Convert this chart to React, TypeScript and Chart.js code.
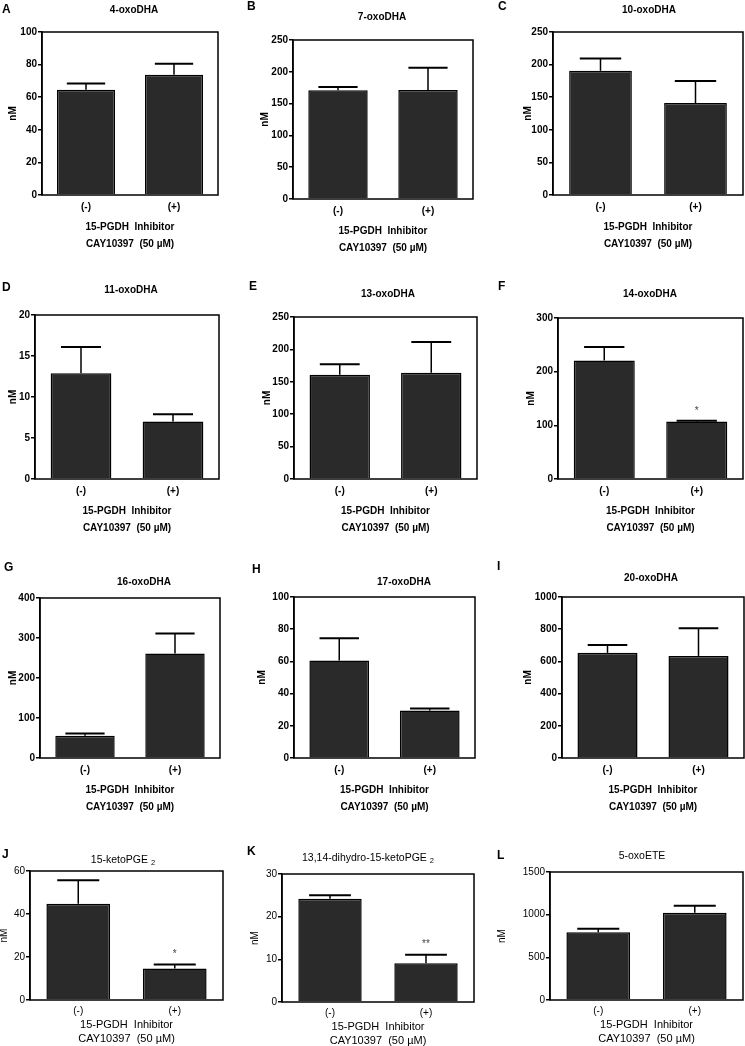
import React, { useEffect, useRef } from 'react';
import { Chart, registerables } from 'chart.js';

Chart.register(...registerables);

const FONT = "'Liberation Sans', Arial, Helvetica, sans-serif";

// ---------- data ----------
const panelLetters = ['A', 'B', 'C', 'D', 'E', 'F', 'G', 'H', 'I', 'J', 'K', 'L'];
const panelTitles = [
  '4-oxoDHA', '7-oxoDHA', '10-oxoDHA',
  '11-oxoDHA', '13-oxoDHA', '14-oxoDHA',
  '16-oxoDHA', '17-oxoDHA', '20-oxoDHA',
  '15-ketoPGE', '13,14-dihydro-15-ketoPGE', '5-oxoETE',
];
const titleSubscripts = ['', '', '', '', '', '', '', '', '', '2', '2', ''];
const categories = ['(-)', '(+)'];
const xAxisLines = ['15-PGDH  Inhibitor', 'CAY10397  (50 \u00B5M)'];
const yAxisLabel = 'nM';

const meanMinus = [64.5, 171, 190.5, 12.9, 161, 221, 55.6, 60.5, 653, 44.8, 24.2, 795];
const meanPlus = [73.8, 171.5, 141, 7.0, 164, 107, 261, 29.5, 634, 14.7, 9.1, 1022];
const semMinus = [3.9, 5, 19, 3.2, 16, 25, 5.4, 13.9, 49, 10.9, 0.8, 39];
const semPlus = [6.7, 35, 34, 0.9, 47.5, 1.5, 50, 1.3, 172, 1.8, 2.0, 83];
const sigMinus = ['', '', '', '', '', '', '', '', '', '', '', ''];
const sigPlus = ['', '', '', '', '', '*', '', '', '', '*', '**', ''];

const yMax = [100, 250, 250, 20, 250, 300, 400, 100, 1000, 60, 30, 1500];
const yStep = [20, 50, 50, 5, 50, 100, 100, 20, 200, 20, 10, 500];

// ---------- layout (pixels on the page) ----------
const COLS: [number, number][] = [[-6, 251], [245, 250], [495, 250]];
const ROWS: [number, number][] = [[0, 278], [278, 280], [558, 284], [842, 210]];

type PanelLayout = {
  col: number; row: number;
  l: number; t: number; r: number; b: number;
  nmD: number; tx: number; ty: number; lx: number; ly: number;
};

const LAYOUT: PanelLayout[] = [
  { col: 0, row: 0, l: 42, t: 32, r: 218, b: 195, nmD: 29, tx: 134, ty: 10, lx: 2, ly: 10 },
  { col: 1, row: 0, l: 293, t: 40, r: 473, b: 199, nmD: 28, tx: 382, ty: 17, lx: 247, ly: 7 },
  { col: 2, row: 0, l: 553, t: 32, r: 743, b: 195, nmD: 25, tx: 649, ty: 10, lx: 498, ly: 7 },
  { col: 0, row: 1, l: 35, t: 315, r: 219, b: 479, nmD: 22, tx: 131, ty: 290, lx: 2, ly: 288 },
  { col: 1, row: 1, l: 294, t: 317, r: 477, b: 479, nmD: 27, tx: 388, ty: 294, lx: 249, ly: 287 },
  { col: 2, row: 1, l: 558, t: 318, r: 743, b: 479, nmD: 27, tx: 650, ty: 294, lx: 498, ly: 287 },
  { col: 0, row: 2, l: 40, t: 598, r: 220, b: 758, nmD: 27, tx: 144, ty: 582, lx: 4, ly: 568 },
  { col: 1, row: 2, l: 294, t: 597, r: 475, b: 758, nmD: 32, tx: 404, ty: 582, lx: 252, ly: 570 },
  { col: 2, row: 2, l: 562, t: 597, r: 744, b: 758, nmD: 34, tx: 651, ty: 578, lx: 497, ly: 567 },
  { col: 0, row: 3, l: 30, t: 871, r: 223, b: 1000, nmD: 26, tx: 123, ty: 860, lx: 2, ly: 855 },
  { col: 1, row: 3, l: 282, t: 874, r: 474, b: 1002, nmD: 27, tx: 368, ty: 858, lx: 247, ly: 852 },
  { col: 2, row: 3, l: 550, t: 872, r: 743, b: 1000, nmD: 48, tx: 642, ty: 856, lx: 497, ly: 856 },
];

function makeDecor(i: number, cx: number, cy: number, small: boolean) {
  return {
    id: 'decor' + i,
    afterDatasetsDraw(chart: any) {
      const ctx: CanvasRenderingContext2D = chart.ctx;
      const { left, top, right, bottom } = chart.chartArea;
      const meta = chart.getDatasetMeta(0);
      const ys = chart.scales.y;
      const means = [meanMinus[i], meanPlus[i]];
      const errs = [semMinus[i], semPlus[i]];
      const sigs = [sigMinus[i], sigPlus[i]];
      ctx.save();
      ctx.strokeStyle = '#000';
      meta.data.forEach((bar: any, k: number) => {
        const x = bar.x;
        const y0 = ys.getPixelForValue(means[k]);
        const y1 = ys.getPixelForValue(means[k] + errs[k]);
        const half = bar.width * 0.33;
        ctx.lineWidth = 1.5;
        ctx.beginPath();
        ctx.moveTo(x, y0);
        ctx.lineTo(x, y1);
        ctx.stroke();
        ctx.lineWidth = 2;
        ctx.beginPath();
        ctx.moveTo(x - half, y1);
        ctx.lineTo(x + half, y1);
        ctx.stroke();
        if (sigs[k]) {
          ctx.fillStyle = '#444';
          ctx.font = `10px ${FONT}`;
          ctx.textAlign = 'center';
          ctx.textBaseline = 'middle';
          ctx.fillText(sigs[k], x, y1 - 10);
        }
      });
      // frame
      ctx.lineWidth = 1.5;
      ctx.strokeStyle = '#000';
      ctx.strokeRect(left, top, right - left, bottom - top);

      const L = LAYOUT[i];
      // panel letter
      ctx.fillStyle = '#000';
      ctx.font = `bold 12px ${FONT}`;
      ctx.textAlign = 'left';
      ctx.textBaseline = 'middle';
      ctx.fillText(panelLetters[i], L.lx - cx, L.ly - cy);

      // title with optional subscript
      const mainFont = small ? `10.5px ${FONT}` : `bold 10px ${FONT}`;
      const subFont = small ? `7.5px ${FONT}` : `bold 7.5px ${FONT}`;
      ctx.font = mainFont;
      const w1 = ctx.measureText(panelTitles[i]).width;
      let w2 = 0;
      const sub = titleSubscripts[i];
      const gap = sub ? 3 : 0;
      if (sub) {
        ctx.font = subFont;
        w2 = ctx.measureText(sub).width;
      }
      const startX = L.tx - cx - (w1 + gap + w2) / 2;
      const ty = L.ty - cy;
      ctx.font = mainFont;
      ctx.fillText(panelTitles[i], startX, ty);
      if (sub) {
        ctx.font = subFont;
        ctx.fillText(sub, startX + w1 + gap, ty + 3);
      }
      ctx.restore();
    },
  };
}

function Panel({ i }: { i: number }) {
  const ref = useRef<HTMLCanvasElement>(null);
  const L = LAYOUT[i];
  const [cx, cw] = COLS[L.col];
  const [cy, ch] = ROWS[L.row];
  useEffect(() => {
    const small = L.row === 3;
    const xh = small ? 46 : 58;
    const yw = L.nmD + 5;
    const weight: any = small ? 'normal' : 'bold';
    const tickFont = { family: FONT, size: 10, weight, lineHeight: 1.2 };
    const chart = new Chart(ref.current as HTMLCanvasElement, {
      type: 'bar',
      data: {
        labels: categories,
        datasets: [
          {
            data: [meanMinus[i], meanPlus[i]],
            backgroundColor: '#2a2a2a',
            borderColor: '#000',
            borderWidth: 1.5,
            barPercentage: 0.66,
            categoryPercentage: 1,
          },
        ],
      },
      options: {
        animation: false,
        responsive: false,
        maintainAspectRatio: false,
        devicePixelRatio: 1,
        layout: {
          padding: {
            left: L.l - cx - yw,
            top: L.t - cy,
            right: cx + cw - L.r,
            bottom: cy + ch - L.b - xh,
          },
        },
        plugins: {
          legend: { display: false },
          title: { display: false },
          tooltip: { enabled: false },
        },
        scales: {
          x: {
            grid: { display: false, drawTicks: false, tickLength: 0 },
            border: { display: false },
            ticks: { font: tickFont, color: '#000', padding: small ? 5 : 6, maxRotation: 0, autoSkip: false },
            title: {
              display: true,
              text: xAxisLines,
              color: '#000',
              padding: 0,
              font: { family: FONT, size: small ? 11 : 10, weight, lineHeight: small ? 1.25 : 1.7 },
            },
            afterFit: (s: any) => {
              s.height = xh;
            },
          },
          y: {
            min: 0,
            max: yMax[i],
            ticks: {
              stepSize: yStep[i],
              font: tickFont,
              color: '#000',
              padding: 1,
              callback: (v: any) => String(v),
            },
            grid: { drawOnChartArea: false, drawTicks: true, tickLength: 4, color: '#000', lineWidth: 1.5 },
            border: { display: true, color: '#000', width: 1.5 },
            title: {
              display: true,
              text: yAxisLabel,
              color: '#000',
              padding: 0,
              font: { family: FONT, size: 10, weight, lineHeight: 1 },
            },
            afterFit: (s: any) => {
              s.width = yw;
            },
          },
        },
      } as any,
      plugins: [makeDecor(i, cx, cy, small)],
    });
    return () => chart.destroy();
  }, [i]);
  return (
    <canvas
      ref={ref}
      width={cw}
      height={ch}
      style={{ position: 'absolute', left: cx, top: cy, width: cw, height: ch }}
    />
  );
}

export default function App() {
  return (
    <div
      style={{
        position: 'fixed',
        left: 0,
        top: 0,
        width: 745,
        height: 1046,
        overflow: 'hidden',
        background: '#fff',
      }}
    >
      {panelLetters.map((_, i) => (
        <Panel key={i} i={i} />
      ))}
    </div>
  );
}
